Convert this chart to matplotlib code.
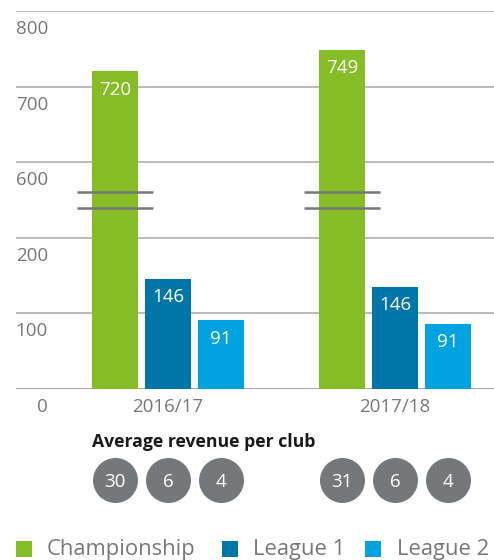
import numpy as np
import matplotlib
matplotlib.use("Agg")
import matplotlib.pyplot as plt
from matplotlib.patches import Rectangle

plt.rcParams['font.family'] = ['Open Sans', 'DejaVu Sans']

# ---- data ----
seasons = ["2016/17", "2017/18"]
leagues = ["Championship", "League 1", "League 2"]
bar_heights = {
    "Championship": [720, 749],
    "League 1": [146, 135],
    "League 2": [91, 86],
}
bar_labels = {
    "Championship": ["720", "749"],
    "League 1": ["146", "146"],
    "League 2": ["91", "91"],
}
avg_per_club = {
    "Championship": [30, 31],
    "League 1": [6, 6],
    "League 2": [4, 4],
}
y_ticks = [0, 100, 200, 600, 700, 800]
colors = {"Championship": "#86BC25", "League 1": "#0076A8", "League 2": "#00A3E0"}
gray = "#75787B"

# broken-axis scale: 0-200 linear, 200-600 compressed, 600-800 linear
def fwd(v):
    v = np.asarray(v, dtype=float)
    return np.where(v <= 200, v, np.where(v < 600, 200 + (v - 200) / 4.0, v - 300))

def inv(t):
    t = np.asarray(t, dtype=float)
    return np.where(t <= 200, t, np.where(t < 300, 200 + (t - 200) * 4.0, t + 300))

W, H = 494, 560
fig = plt.figure(figsize=(W / 100, H / 100), dpi=100)
ax = fig.add_axes([16 / W, 1 - 389 / H, 1 - 16 / W, (389 - 11) / H])
ax.set_yscale('function', functions=(fwd, inv))
ax.set_ylim(0, 800)
group_x = np.arange(len(seasons))
bw = 46 / 227
step = 53 / 227
ax.set_xlim((16 - 168) / 227, (494 - 168) / 227)
for s in ax.spines.values():
    s.set_visible(False)
ax.set_xticks([])
ax.set_yticks([])

# gridlines and tick labels (right-aligned, below each line)
lab_x = (48 - 16) / (494 - 16)
for v in y_ticks:
    ax.axhline(v, color="#8c8c8c" if v == 0 else "#a8a8a8", lw=1.1, zorder=0)
    ax.annotate(str(v), xy=(lab_x, v), xycoords=ax.get_yaxis_transform(),
                xytext=(0, -16.5), textcoords="offset points",
                ha="right", va="baseline", fontsize=13.5, color=gray)

# bars
for i, lg in enumerate(leagues):
    xs = group_x + (i - 1) * step
    bars = ax.bar(xs, bar_heights[lg], width=bw, color=colors[lg], zorder=2)
    for b, lab in zip(bars, bar_labels[lg]):
        ax.annotate(lab, xy=(b.get_x() + b.get_width() / 2, b.get_height()),
                    xytext=(0, -16.8), textcoords="offset points",
                    ha="center", va="baseline", fontsize=13.5, color="white", zorder=3)

# break marks on Championship bars
pix_to_t = 100 / 75.6
b_lo = float(inv(250 - 8 * pix_to_t))
b_hi = float(inv(250 + 8 * pix_to_t))
ext = 15 / 227
cx = group_x - step
for yb in (b_lo, b_hi):
    ax.hlines([yb] * len(cx), cx - bw / 2 - ext, cx + bw / 2 + ext,
              color=gray, lw=1.8, zorder=4)

# season labels
for gx, s in zip(group_x, seasons):
    ax.annotate(s, xy=(gx, 0), xytext=(0, -16.5), textcoords="offset points",
                ha="center", va="baseline", fontsize=13.5, color=gray)

# average revenue per club circles
ax2 = fig.add_axes([16 / W, 1 - 505 / H, 1 - 16 / W, 50 / H])
ax2.set_xlim(ax.get_xlim())
ax2.set_ylim(0, 1)
ax2.axis("off")
for i, lg in enumerate(leagues):
    xs = group_x + (i - 1) * step
    ax2.scatter(xs, [0.5] * len(xs), s=(45 * 0.72) ** 2, color=gray, linewidths=0)
    for x, v in zip(xs, avg_per_club[lg]):
        ax2.text(x, 0.5, str(v), ha="center", va="center_baseline",
                 fontsize=13.5, color="white")

fig.text(92 / W, 1 - 447 / H, "Average revenue per club", ha="left", va="baseline",
         fontsize=12.7, fontweight="bold", color="#1a1a1a")

# legend (manual)
sq_x = [16, 222, 365]
tx_x = [47, 253, 397]
for lg, sx, tx in zip(leagues, sq_x, tx_x):
    fig.add_artist(Rectangle((sx / W, 1 - 557 / H), 16 / W, 16 / H,
                             transform=fig.transFigure, facecolor=colors[lg],
                             edgecolor="none"))
    fig.text(tx / W, 1 - 555 / H, lg, ha="left", va="baseline",
             fontsize=15.8, color=gray)

fig.savefig("out.png", dpi=100)
